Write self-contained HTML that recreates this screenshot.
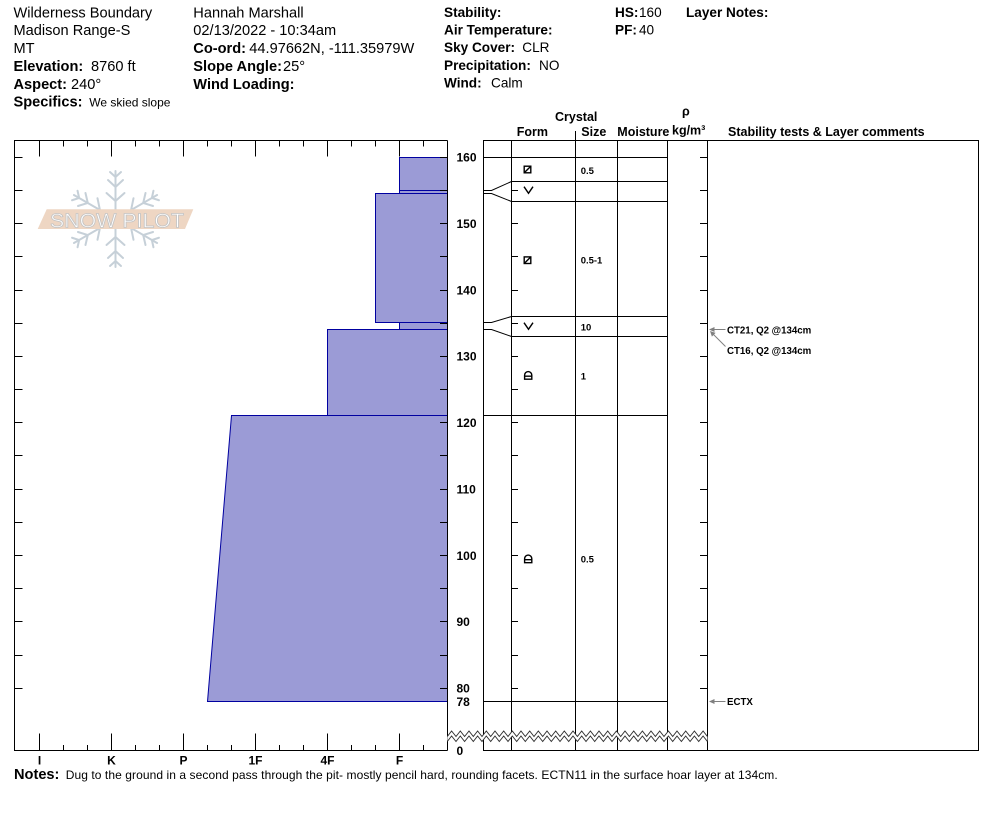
<!DOCTYPE html>
<html>
<head>
<meta charset="utf-8">
<style>
html,body{margin:0;padding:0;background:#fff;}
svg{display:block;}
text{font-family:"Liberation Sans",Arial,sans-serif;}
.b{font-weight:bold;}
</style>
</head>
<body>
<svg width="994" height="840" viewBox="0 0 994 840" xmlns="http://www.w3.org/2000/svg">
<rect x="0" y="0" width="994" height="840" fill="#fff"/>

<!-- Header left -->
<g font-size="14.6" fill="#000">
<text x="13.5" y="17.3">Wilderness Boundary</text>
<text x="13.5" y="35.2">Madison Range-S</text>
<text x="13.5" y="53">MT</text>
<text x="13.5" y="70.9" class="b">Elevation:</text><text x="91" y="70.9">8760 ft</text>
<text x="13.5" y="88.8" class="b">Aspect:</text><text x="71" y="88.8">240°</text>
<text x="13.5" y="106.7" class="b">Specifics:</text><text x="89.3" y="106.7" font-size="12">We skied slope</text>

<text x="193.3" y="17.3">Hannah Marshall</text>
<text x="193.3" y="35.2">02/13/2022 - 10:34am</text>
<text x="193.3" y="53" class="b">Co-ord:</text><text x="249.3" y="53">44.97662N, -111.35979W</text>
<text x="193.3" y="70.9" class="b">Slope Angle:</text><text x="283" y="70.9">25°</text>
<text x="193.3" y="88.8" class="b">Wind Loading:</text>
</g>

<!-- Header right -->
<g font-size="13.6" fill="#000">
<text x="444" y="16.8" class="b">Stability:</text>
<text x="444" y="34.5" class="b">Air Temperature:</text>
<text x="444" y="52.2" class="b">Sky Cover:</text><text x="522.3" y="52.2">CLR</text>
<text x="444" y="69.9" class="b">Precipitation:</text><text x="539" y="69.9">NO</text>
<text x="444" y="87.6" class="b">Wind:</text><text x="491" y="87.6">Calm</text>
<text x="615" y="16.8" class="b">HS:</text><text x="639" y="16.8">160</text>
<text x="615" y="34.5" class="b">PF:</text><text x="639" y="34.5">40</text>
<text x="686" y="16.8" class="b">Layer Notes:</text>
</g>

<!-- Column headers -->
<g font-size="12.5" font-weight="bold" fill="#000">
<text x="555" y="121">Crystal</text>
<text x="516.7" y="136">Form</text>
<text x="581.3" y="136">Size</text>
<text x="617.3" y="136">Moisture</text>
<text x="682" y="115.5">ρ</text>
<text x="672" y="134.3">kg/m³</text>
<text x="728" y="136">Stability tests &amp; Layer comments</text>
</g>

<!-- Snow Pilot logo -->
<g stroke="#c6d0d8" stroke-width="2" fill="none" stroke-linecap="round">
  <g><line x1="115.5" y1="219" x2="115.5" y2="171"/><polyline points="106.5,193 115.5,201 124.5,193"/><polyline points="108,180 115.5,187 123,180"/><polyline points="110,172 115.5,177 121,172"/></g>
  <g transform="rotate(60 115.5 219)"><line x1="115.5" y1="219" x2="115.5" y2="171"/><polyline points="106.5,193 115.5,201 124.5,193"/><polyline points="108,180 115.5,187 123,180"/><polyline points="110,172 115.5,177 121,172"/></g>
  <g transform="rotate(120 115.5 219)"><line x1="115.5" y1="219" x2="115.5" y2="171"/><polyline points="106.5,193 115.5,201 124.5,193"/><polyline points="108,180 115.5,187 123,180"/><polyline points="110,172 115.5,177 121,172"/></g>
  <g transform="rotate(180 115.5 219)"><line x1="115.5" y1="219" x2="115.5" y2="171"/><polyline points="106.5,193 115.5,201 124.5,193"/><polyline points="108,180 115.5,187 123,180"/><polyline points="110,172 115.5,177 121,172"/></g>
  <g transform="rotate(240 115.5 219)"><line x1="115.5" y1="219" x2="115.5" y2="171"/><polyline points="106.5,193 115.5,201 124.5,193"/><polyline points="108,180 115.5,187 123,180"/><polyline points="110,172 115.5,177 121,172"/></g>
  <g transform="rotate(300 115.5 219)"><line x1="115.5" y1="219" x2="115.5" y2="171"/><polyline points="106.5,193 115.5,201 124.5,193"/><polyline points="108,180 115.5,187 123,180"/><polyline points="110,172 115.5,177 121,172"/></g>
</g>
<polygon points="46.7,209.3 193.3,209.3 185,229 37.7,229" fill="#eed6c3"/>
<text x="50" y="227.5" font-size="20" textLength="134" lengthAdjust="spacingAndGlyphs" style="fill:#ffffff;stroke:#c4c4c4;stroke-width:0.8">SNOW PILOT</text>

<!-- Hardness profile fills -->
<g fill="#9b9bd6" stroke="#0000a0" stroke-width="1">
<rect x="399.5" y="157.5" width="48" height="33"/>
<rect x="399.5" y="190.5" width="48" height="3"/>
<rect x="375.5" y="193.5" width="72" height="129"/>
<rect x="399.5" y="322.5" width="48" height="7"/>
<rect x="327.5" y="329.5" width="120" height="86"/>
<polygon points="231.5,415.5 447.5,415.5 447.5,701.5 207.5,701.5"/>
</g>

<!-- Left chart frame and ticks -->
<g stroke="#000" stroke-width="1" fill="none">
<polyline points="447.5,140.5 14.5,140.5 14.5,750.5 447.5,750.5"/>
<line x1="447.5" y1="140.5" x2="447.5" y2="750.5"/>
<path d="M39.5,140.5V156.5M111.5,140.5V156.5M183.5,140.5V156.5M255.5,140.5V156.5M327.5,140.5V156.5M399.5,140.5V156.5
M63.5,140.5V146.5M87.5,140.5V146.5M135.5,140.5V146.5M159.5,140.5V146.5M207.5,140.5V146.5M231.5,140.5V146.5M279.5,140.5V146.5M303.5,140.5V146.5M351.5,140.5V146.5M375.5,140.5V146.5M423.5,140.5V146.5
M39.5,733.5V750.5M111.5,733.5V750.5M183.5,733.5V750.5M255.5,733.5V750.5M327.5,733.5V750.5M399.5,733.5V750.5
M63.5,745V750.5M87.5,745V750.5M135.5,745V750.5M159.5,745V750.5M207.5,745V750.5M231.5,745V750.5M279.5,745V750.5M303.5,745V750.5M351.5,745V750.5M375.5,745V750.5M423.5,745V750.5"/>
<path d="M14.5,157.5H22.5M14.5,190.5H22.5M14.5,223.5H22.5M14.5,256.5H22.5M14.5,290.5H22.5M14.5,323.5H22.5M14.5,356.5H22.5M14.5,389.5H22.5M14.5,422.5H22.5M14.5,455.5H22.5M14.5,489.5H22.5M14.5,522.5H22.5M14.5,555.5H22.5M14.5,588.5H22.5M14.5,621.5H22.5M14.5,655.5H22.5M14.5,688.5H22.5"/>
<path d="M440,157.5H447.5M440,190.5H447.5M440,223.5H447.5M440,256.5H447.5M440,290.5H447.5M440,323.5H447.5M440,356.5H447.5M440,389.5H447.5M440,422.5H447.5M440,455.5H447.5M440,489.5H447.5M440,522.5H447.5M440,555.5H447.5M440,588.5H447.5M440,621.5H447.5M440,655.5H447.5M440,688.5H447.5"/>
</g>

<!-- Hardness labels -->
<g font-size="12" font-weight="bold" text-anchor="middle" fill="#000">
<text x="39.5" y="764.5">I</text>
<text x="111.5" y="764.5">K</text>
<text x="183.5" y="764.5">P</text>
<text x="255.5" y="764.5">1F</text>
<text x="327.5" y="764.5">4F</text>
<text x="399.5" y="764.5">F</text>
</g>

<!-- Height labels -->
<g font-size="12" font-weight="bold" fill="#000">
<text x="456.5" y="161.6">160</text>
<text x="456.5" y="228">150</text>
<text x="456.5" y="294.4">140</text>
<text x="456.5" y="360.7">130</text>
<text x="456.5" y="427.1">120</text>
<text x="456.5" y="493.5">110</text>
<text x="456.5" y="559.9">100</text>
<text x="456.5" y="626.2">90</text>
<text x="456.5" y="692.4">80</text>
<text x="456.5" y="705.8">78</text>
<text x="456.5" y="755">0</text>
</g>

<!-- Right chart frame -->
<g stroke="#000" stroke-width="1" fill="none">
<rect x="483.5" y="140.5" width="495" height="610"/>
<line x1="511.5" y1="140.5" x2="511.5" y2="750.5"/>
<line x1="575.5" y1="131" x2="575.5" y2="750.5"/>
<line x1="617.5" y1="140.5" x2="617.5" y2="750.5"/>
<line x1="667.5" y1="140.5" x2="667.5" y2="750.5"/>
<line x1="707.5" y1="140.5" x2="707.5" y2="750.5"/>
<path d="M483.5,157.5H667.5M511.5,181.5H667.5M511.5,201.5H667.5M511.5,316.5H667.5M511.5,336.5H667.5M483.5,415.5H667.5M483.5,701.5H667.5"/>
<polyline points="483.5,190.5 491.5,190.5 511.5,181.5"/>
<polyline points="483.5,193.5 491.5,193.5 511.5,201.5"/>
<polyline points="483.5,322.5 491.5,322.5 511.5,316.5"/>
<polyline points="483.5,329.5 491.5,329.5 511.5,336.5"/>
<path d="M511.5,190.5H518M511.5,223.5H518M511.5,256.5H518M511.5,290.5H518M511.5,323.5H518M511.5,356.5H518M511.5,389.5H518M511.5,422.5H518M511.5,455.5H518M511.5,489.5H518M511.5,522.5H518M511.5,555.5H518M511.5,588.5H518M511.5,621.5H518M511.5,655.5H518M511.5,688.5H518"/>
<path d="M700,157.5H707.5M700,190.5H707.5M700,223.5H707.5M700,256.5H707.5M700,290.5H707.5M700,323.5H707.5M700,356.5H707.5M700,389.5H707.5M700,422.5H707.5M700,455.5H707.5M700,489.5H707.5M700,522.5H707.5M700,555.5H707.5M700,588.5H707.5M700,621.5H707.5M700,655.5H707.5M700,688.5H707.5"/>
</g>

<!-- Zigzag break -->
<polygon fill="#fff" stroke="none" points="447.3,736.5 451.6,731 456,736.5 460.3,731 464.6,736.5 469,731 473.3,736.5 477.6,731 482,736.5 486.3,731 490.7,736.5 495,731 499.3,736.5 503.7,731 508,736.5 512.3,731 516.7,736.5 521,731 525.3,736.5 529.7,731 534,736.5 538.3,731 542.7,736.5 547,731 551.3,736.5 555.7,731 560,736.5 564.3,731 568.7,736.5 573,731 577.4,736.5 581.7,731 586,736.5 590.4,731 594.7,736.5 599,731 603.4,736.5 607.7,731 612,736.5 616.4,731 620.7,736.5 625,731 629.4,736.5 633.7,731 638,736.5 642.4,731 646.7,736.5 651,731 655.4,736.5 659.7,731 664,736.5 668.4,731 672.7,736.5 677,731 681.4,736.5 685.7,731 690.1,736.5 694.4,731 698.7,736.5 703.1,731 707.4,736.5 707.4,741.5 703.1,736 698.7,741.5 694.4,736 690.1,741.5 685.7,736 681.4,741.5 677,736 672.7,741.5 668.4,736 664,741.5 659.7,736 655.4,741.5 651,736 646.7,741.5 642.4,736 638,741.5 633.7,736 629.4,741.5 625,736 620.7,741.5 616.4,736 612,741.5 607.7,736 603.4,741.5 599,736 594.7,741.5 590.4,736 586,741.5 581.7,736 577.4,741.5 573,736 568.7,741.5 564.3,736 560,741.5 555.7,736 551.3,741.5 547,736 542.7,741.5 538.3,736 534,741.5 529.7,736 525.3,741.5 521,736 516.7,741.5 512.3,736 508,741.5 503.7,736 499.3,741.5 495,736 490.7,741.5 486.3,736 482,741.5 477.6,736 473.3,741.5 469,736 464.6,741.5 460.3,736 456,741.5 451.6,736 447.3,741.5"/>
<g fill="none" stroke="#333" stroke-width="1">
<polyline points="447.3,736.5 451.6,731 456,736.5 460.3,731 464.6,736.5 469,731 473.3,736.5 477.6,731 482,736.5 486.3,731 490.7,736.5 495,731 499.3,736.5 503.7,731 508,736.5 512.3,731 516.7,736.5 521,731 525.3,736.5 529.7,731 534,736.5 538.3,731 542.7,736.5 547,731 551.3,736.5 555.7,731 560,736.5 564.3,731 568.7,736.5 573,731 577.4,736.5 581.7,731 586,736.5 590.4,731 594.7,736.5 599,731 603.4,736.5 607.7,731 612,736.5 616.4,731 620.7,736.5 625,731 629.4,736.5 633.7,731 638,736.5 642.4,731 646.7,736.5 651,731 655.4,736.5 659.7,731 664,736.5 668.4,731 672.7,736.5 677,731 681.4,736.5 685.7,731 690.1,736.5 694.4,731 698.7,736.5 703.1,731 707.4,736.5"/>
<polyline points="447.3,741.5 451.6,736 456,741.5 460.3,736 464.6,741.5 469,736 473.3,741.5 477.6,736 482,741.5 486.3,736 490.7,741.5 495,736 499.3,741.5 503.7,736 508,741.5 512.3,736 516.7,741.5 521,736 525.3,741.5 529.7,736 534,741.5 538.3,736 542.7,741.5 547,736 551.3,741.5 555.7,736 560,741.5 564.3,736 568.7,741.5 573,736 577.4,741.5 581.7,736 586,741.5 590.4,736 594.7,741.5 599,736 603.4,741.5 607.7,736 612,741.5 616.4,736 620.7,741.5 625,736 629.4,741.5 633.7,736 638,741.5 642.4,736 646.7,741.5 651,736 655.4,741.5 659.7,736 664,741.5 668.4,736 672.7,741.5 677,736 681.4,741.5 685.7,736 690.1,741.5 694.4,736 698.7,741.5 703.1,736 707.4,741.5"/>
</g>

<!-- Crystal form symbols -->
<g fill="none" stroke="#000" stroke-width="1.4">
<rect x="524.2" y="166.2" width="6.6" height="6.6"/>
<line x1="524.2" y1="172.8" x2="530.8" y2="166.2"/>
<polyline points="524,186.7 528.5,193.3 533,186.7"/>
<rect x="524.2" y="256.9" width="6.6" height="6.6"/>
<line x1="524.2" y1="263.5" x2="530.8" y2="256.9"/>
<polyline points="524,322.7 528.5,329.3 533,322.7"/>
<path d="M524.6,379.2V375.2A3.6,3.6 0 0 1 531.8,375.2V379.2Z M524.6,376.2H531.8"/>
<path d="M524.6,562.7V558.7A3.6,3.6 0 0 1 531.8,558.7V562.7Z M524.6,559.7H531.8"/>
</g>

<!-- Sizes -->
<g font-size="9.5" font-weight="bold" fill="#000">
<text x="580.7" y="174">0.5</text>
<text x="580.7" y="263.5">0.5-1</text>
<text x="580.7" y="330.7">10</text>
<text x="580.7" y="379.3">1</text>
<text x="580.7" y="562.5">0.5</text>
</g>

<!-- Stability test arrows -->
<g stroke="#808080" stroke-width="1" fill="none">
<line x1="713" y1="329.5" x2="725.5" y2="329.5"/>
<line x1="713" y1="334" x2="725.5" y2="346.5"/>
<line x1="713" y1="701.5" x2="725.5" y2="701.5"/>
</g>
<g fill="#808080">
<polygon points="709,329.5 714.5,327 714.5,332"/>
<polygon points="710,331 715.6,332.9 711.9,336.6"/>
<polygon points="709,701.5 714.5,699 714.5,704"/>
</g>
<g font-size="9.7" font-weight="bold" fill="#000">
<text x="727" y="333.5">CT21, Q2 @134cm</text>
<text x="727" y="354">CT16, Q2 @134cm</text>
<text x="727" y="705">ECTX</text>
</g>

<!-- Notes -->
<text x="14" y="779" font-size="14.6" font-weight="bold" fill="#000">Notes:</text>
<text x="65.7" y="779" font-size="12" textLength="712" lengthAdjust="spacing" fill="#000">Dug to the ground in a second pass through the pit- mostly pencil hard, rounding facets. ECTN11 in the surface hoar layer at 134cm.</text>
</svg>
</body>
</html>
